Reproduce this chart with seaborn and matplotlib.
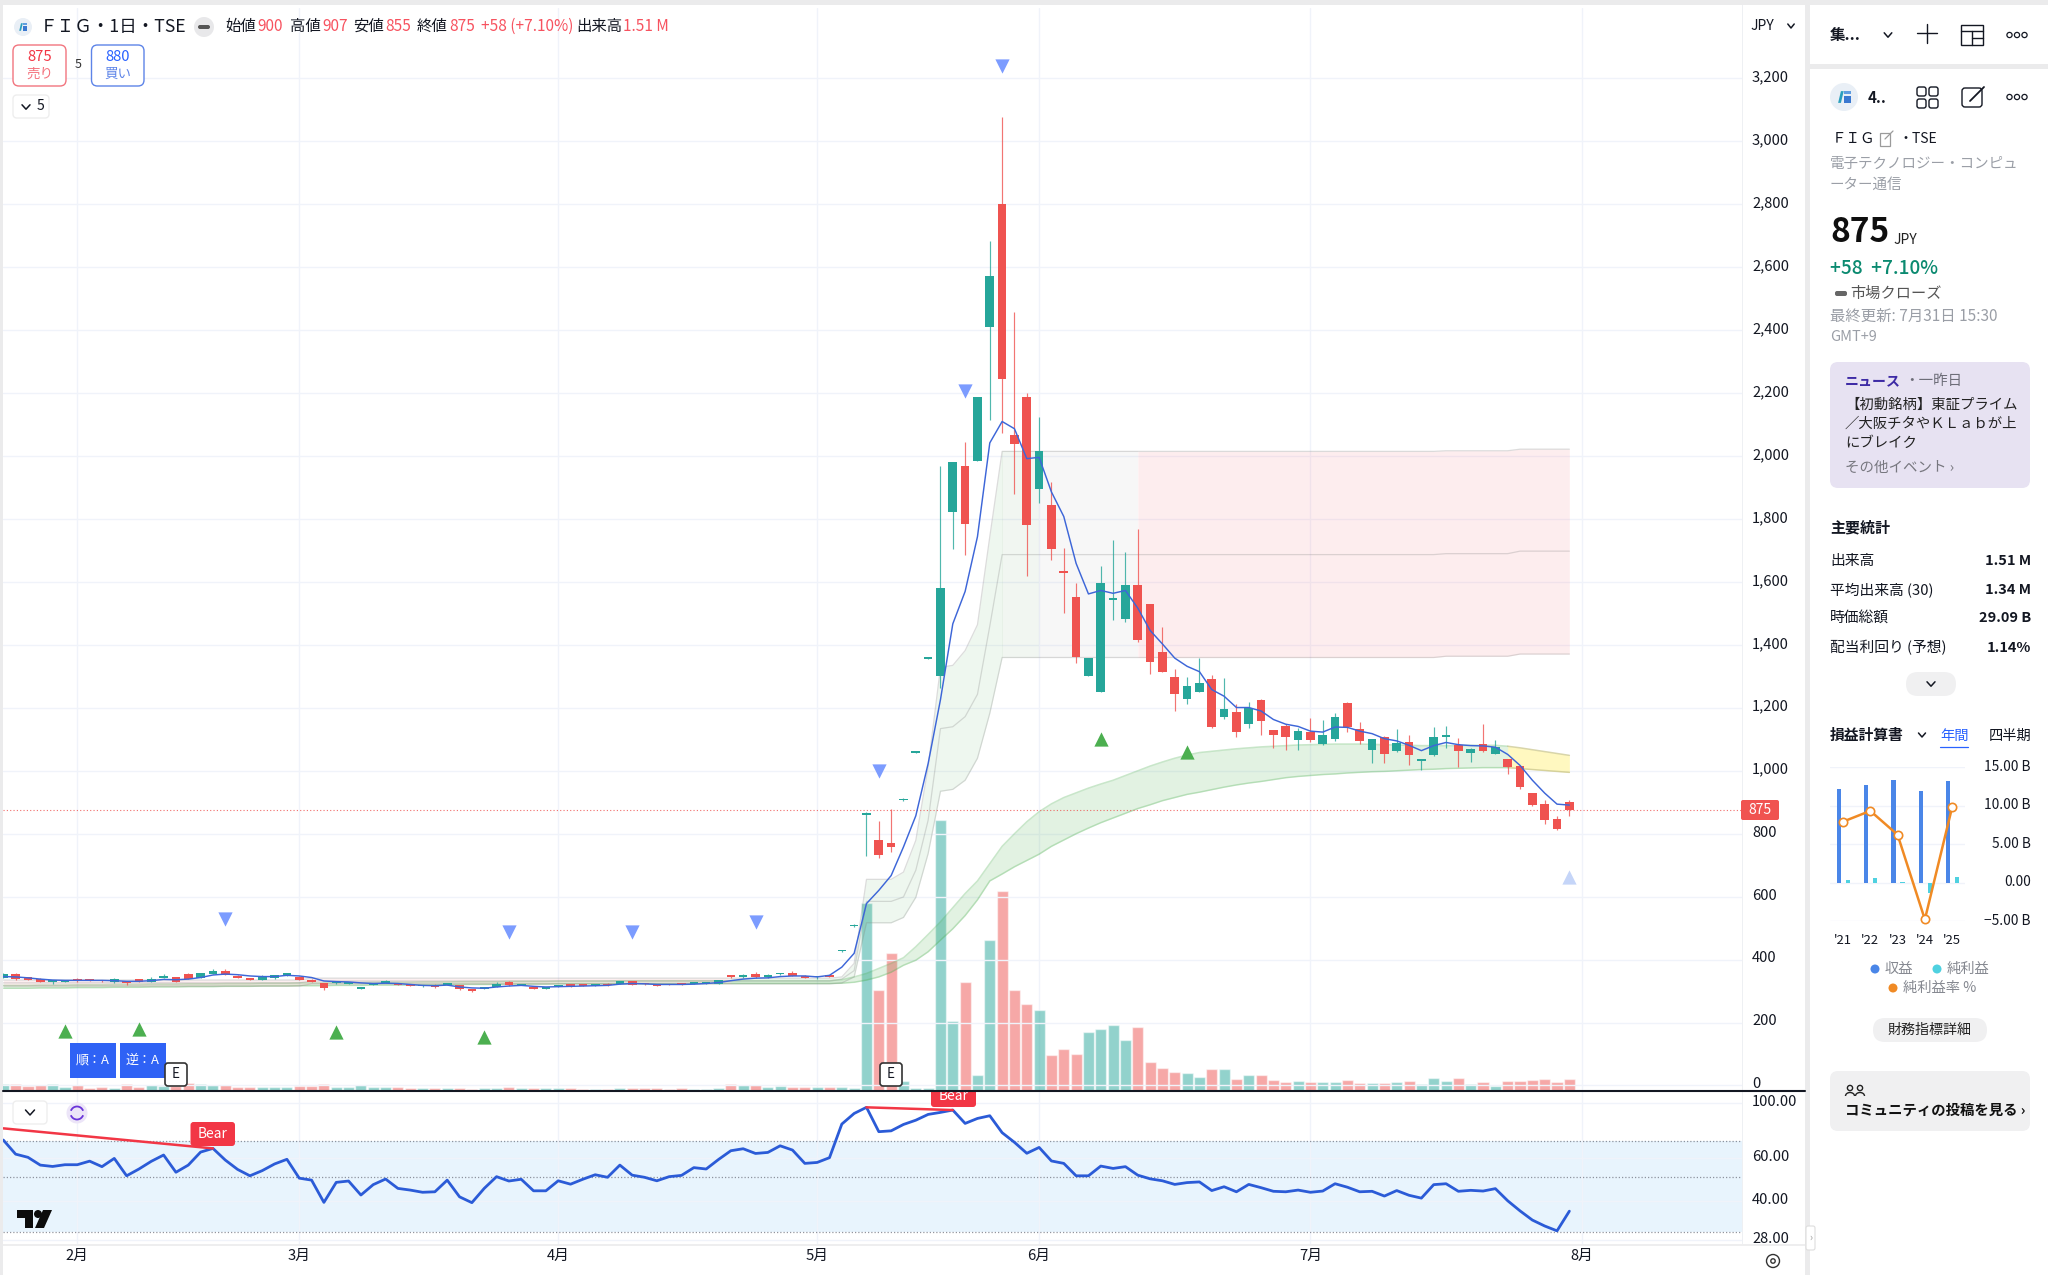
import numpy as np
import pandas as pd
import matplotlib
matplotlib.use("Agg")
import matplotlib.pyplot as plt
from matplotlib.patches import FancyBboxPatch, Rectangle, Circle, Polygon, Arc
from matplotlib.ticker import FuncFormatter, NullLocator
from matplotlib.transforms import ScaledTranslation
import seaborn as sns

opens = [342,355,344,339,329,330,335,334,334,328,
         332,337,330,342,344,355,341,355,365,349,
         342,335,340,348,346,336,326,325,322,306,
         319,326,326,318,315,320,319,318,302,307,
         314,330,319,309,307,315,321,317,316,323,
         322,331,324,321,320,323,323,324,324,347,
         346,353,345,353,357,349,344,347,426,506,
         858,779,770,906,1058,1356,1301,1822,1968,1985,
         2411,2801,2066,2189,1894,1844,1633,1553,1301,1251,
         1544,1481,1590,1531,1377,1299,1228,1251,1291,1170,
         1187,1148,1225,1129,1143,1097,1124,1084,1100,1214,
         1134,1067,1108,1062,1093,1032,1049,1108,1081,1056,
         1085,1054,1037,1016,928,895,848,900]
closes = [355,339,336,330,332,333,334,333,331,339,
          325,330,339,348,330,338,357,363,352,341,
          335,344,350,357,335,330,309,331,329,313,
          325,329,319,317,317,312,325,305,300,311,
          323,318,322,307,311,316,313,316,318,318,
          331,320,321,316,319,321,326,326,335,345,
          349,344,347,355,348,341,346,345,430,510,
          866,732,758,911,1062,1361,1580,1981,1783,2187,
          2571,2245,2038,1781,2015,1704,1629,1363,1359,1598,
          1546,1590,1417,1346,1315,1243,1270,1280,1140,1197,
          1122,1201,1157,1113,1106,1125,1097,1113,1172,1139,
          1094,1100,1054,1089,1049,1034,1108,1114,1062,1070,
          1064,1075,1013,948,890,845,816,875]
highs = [357,356,346,340,332,334,342,335,335,340,
         333,338,346,354,345,356,358,370,371,350,
         343,351,352,358,347,337,327,332,330,314,
         326,335,327,319,318,321,326,319,305,312,
         330,332,323,310,312,318,322,318,319,326,
         332,332,325,322,321,324,327,327,336,350,
         355,361,353,358,365,350,347,348,432,512,
         870,840,878,913,1064,1363,1967,1981,2045,2187,
         2685,3078,2459,2201,2123,1917,1708,1598,1359,1650,
         1734,1694,1769,1531,1457,1322,1297,1360,1304,1294,
         1211,1220,1229,1130,1150,1135,1169,1162,1184,1219,
         1154,1100,1110,1134,1113,1035,1139,1143,1103,1071,
         1150,1099,1038,1017,930,906,855,907]
lows = [340,335,334,329,323,329,328,332,330,327,
        318,329,329,340,329,337,340,353,351,340,
        334,334,339,347,334,329,303,324,321,305,
        318,325,318,316,314,311,318,304,297,306,
        313,317,318,306,306,314,312,315,315,317,
        321,319,320,315,318,320,322,323,323,340,
        340,343,340,350,347,340,338,344,424,504,
        728,722,742,904,1056,1354,1262,1704,1687,1985,
        2116,2073,1881,1619,1850,1670,1500,1341,1301,1251,
        1478,1473,1410,1307,1315,1190,1211,1251,1137,1165,
        1108,1136,1113,1072,1067,1067,1091,1081,1095,1123,
        1086,1026,1026,1060,1017,1003,1047,1071,1012,1028,
        1060,1052,989,942,888,832,813,855]
volume_m = [.8,.93,.62,.71,.8,.49,.67,.36,.49,.36,
            .8,.53,.71,.62,.6,1.0,.93,.71,.71,.49,
            .4,.49,.4,.49,.62,.62,.93,.49,.4,.71,
            .53,.4,.4,.31,.36,.3,.35,.3,.2,.3,
            .35,.45,.35,.3,.3,.3,.3,.2,.2,.2,
            .35,.3,.3,.3,.25,.3,.2,.2,.3,.8,
            .7,.7,.5,.6,.5,.5,.4,.4,.44,.3,
            25.0,13.4,18.3,1.3,.3,.3,36.0,9.2,14.4,2.0,
            20.1,26.6,13.4,11.5,10.7,4.7,5.5,4.8,7.8,8.2,
            8.7,6.7,8.5,3.8,3.0,2.4,2.3,1.8,2.8,2.8,
            1.5,2.0,2.0,1.4,1.1,1.2,1.1,1.1,1.1,1.4,
            1.0,1.0,1.0,1.1,1.2,.8,1.7,1.3,1.6,.9,
            1.1,.6,1.2,1.3,1.4,1.5,1.1,1.51]
ma5 = [346,345,342,338,335,334,334,334,334,333,
       331,331,333,337,336,338,343,351,354,352,
       348,346,346,350,348,343,332,330,329,326,
       324,325,324,321,318,317,319,313,310,309,
       313,316,318,315,313,314,315,316,317,318,
       322,324,323,321,321,321,322,324,327,333,
       338,341,342,346,348,348,345,350,376,420,
       578,620,667,758,857,1023,1226,1467,1570,1744,
       2042,2110,2087,1992,1996,1886,1808,1659,1562,1573,
       1564,1573,1517,1446,1403,1358,1332,1315,1258,1237,
       1201,1201,1190,1163,1148,1141,1126,1123,1139,1138,
       1126,1118,1102,1095,1081,1064,1080,1090,1083,1080,
       1079,1075,1052,1017,970,929,894,891]
band_upper = [335,335,335,335,335,335,335,335,335,335,
              335,335,335,335,335,335,335,335,335,335,
              335,335,335,335,335,341,341,341,341,341,
              341,341,341,341,341,341,341,341,341,341,
              341,341,341,341,341,341,341,341,341,341,
              341,341,341,341,341,341,341,341,341,341,
              341,341,341,341,341,341,341,341,345,388,
              655,655,655,678,779,1012,1329,1335,1382,1464,
              1744,2015,2015,2015,2015,2015,2015,2015,2015,2015,
              2015,2015,2015,2015,2015,2015,2015,2015,2015,2015,
              2015,2015,2015,2015,2015,2015,2015,2015,2015,2015,
              2015,2015,2015,2015,2015,2015,2015,2017,2017,2017,
              2017,2017,2017,2022,2022,2022,2022,2022]
band_mid = [326,326,326,326,326,326,326,326,326,326,
            326,326,326,326,326,326,326,326,326,326,
            326,326,326,326,326,332,332,332,332,332,
            332,332,332,332,332,332,332,332,332,332,
            332,332,332,332,332,332,332,332,332,332,
            332,332,332,332,332,332,332,332,332,332,
            332,332,332,332,332,332,332,332,338,365,
            585,585,585,599,684,843,1134,1140,1172,1243,
            1460,1687,1687,1687,1687,1687,1687,1687,1687,1687,
            1687,1687,1687,1687,1687,1687,1687,1687,1687,1687,
            1687,1687,1687,1687,1687,1687,1687,1687,1687,1687,
            1687,1687,1687,1687,1687,1687,1687,1690,1690,1690,
            1690,1690,1690,1698,1698,1698,1698,1698]
band_lower = [316,316,316,316,316,316,316,316,316,316,
              316,316,316,316,316,316,316,316,316,316,
              316,316,316,316,316,323,323,323,323,323,
              323,323,323,323,323,323,323,323,323,323,
              323,323,323,323,323,323,323,323,323,323,
              323,323,323,323,323,323,323,323,323,323,
              323,323,323,323,323,323,323,323,326,345,
              517,517,517,534,598,737,935,941,970,1040,
              1183,1360,1360,1360,1360,1360,1360,1360,1360,1360,
              1360,1360,1360,1360,1360,1360,1360,1360,1360,1360,
              1360,1360,1360,1360,1360,1360,1360,1360,1360,1360,
              1360,1360,1360,1360,1360,1360,1360,1364,1364,1364,
              1364,1364,1364,1371,1371,1371,1371,1371]
cloud_top = [318,318,318,319,319,319,320,320,320,321,
             321,321,322,322,322,323,323,323,324,324,
             324,325,325,325,326,326,326,327,327,327,
             328,328,328,328,329,329,329,330,330,330,
             330,331,331,331,331,332,332,332,332,332,
             333,333,333,333,333,333,333,333,333,333,
             333,333,333,333,333,333,333,333,336,345,
             356,372,388,406,441,480,520,565,610,650,
             705,760,800,838,870,895,915,930,945,958,
             970,985,1000,1015,1028,1040,1050,1058,1062,1066,
             1070,1073,1076,1078,1080,1082,1083,1084,1085,1085,
             1085,1084,1083,1082,1081,1080,1080,1080,1080,1081,
             1081,1081,1078,1073,1067,1061,1055,1049]
cloud_bot = [309,309,309,310,310,310,311,311,311,312,
             312,312,313,313,313,314,314,314,315,315,
             315,316,316,316,317,317,317,318,318,318,
             319,319,319,319,320,320,320,321,321,321,
             321,322,322,322,322,323,323,323,323,323,
             323,323,323,323,323,323,324,324,324,324,
             324,324,324,324,324,324,324,324,325,328,
             335,345,360,382,398,425,462,498,540,590,
             650,672,695,715,735,760,780,800,818,835,
             850,865,880,892,905,915,925,932,940,948,
             955,961,966,972,978,982,985,988,990,993,
             995,997,998,1000,1002,1004,1005,1007,1008,1009,
             1010,1010,1010,1007,1004,1001,998,995]
rsi = [70.7,62,60.2,56,55.3,56.2,56.2,58.1,55.2,59.6,
       50.7,54,58,61.5,52.4,56,63.2,65.4,58.7,53.8,
       50.7,53.2,56.6,59.1,49.6,48.7,39.6,47.7,48.3,42.4,
       46.7,49.2,45.1,44.4,43.5,43.7,48.7,41.7,39.5,45.1,
       50.3,48.3,49.1,44.1,44.1,48.4,46.9,49.1,51.2,50,
       56,51,50,48.4,50.3,50.9,54.7,54,59,64,
       65.2,62.4,63,67,64.4,56.9,57.4,60,82,90.5,
       95.8,76.4,77,81.7,85,89.7,91.4,93.4,82.5,86.4,
       88.6,75.7,69.2,62.5,66,58.2,56.9,50.7,50.7,55.5,
       54.3,55.2,51,49.3,48.4,46.8,47.6,47.9,44.2,45.8,
       43.7,46.8,45.4,43.9,43.7,44.4,43.5,44,47.1,45.6,
       43.7,43.9,42,44.2,42.3,41.2,46.7,47.1,43.9,44.3,
       44,45,40.2,36.6,33.6,31.8,30.4,36.5]
sell_idx = [18, 41, 51, 61, 71, 78, 81]
sell_price = [528, 487, 487, 519, 998, 2207, 3240]
buy_idx = [5, 11, 27, 39, 89, 96]
buy_price = [173, 178, 169, 155, 1100, 1059]
month_idx = [6, 24, 45, 66, 84, 106, 128]
month_labels = ["2月", "3月", "4月", "5月", "6月", "7月", "8月"]
price_ticks = list(range(0, 3400, 200))
rsi_ticks = [100, 60, 40, 28]
fy_labels = ["'21", "'22", "'23", "'24", "'25"]
fy_revenue = [12.1, 12.7, 13.3, 11.9, 13.2]
fy_net = [0.3, 0.55, 0.05, -1.3, 0.65]
fy_margin = [7.9, 9.3, 6.2, -4.8, 9.8]
fy_ticks = [15, 10, 5, 0, -5]
fy_tick_labels = ["15.00 B", "10.00 B", "5.00 B", "0.00", "−5.00 B"]

sns.set_style("white")
plt.rcParams["font.family"] = ["Noto Sans CJK JP", "DejaVu Sans"]
plt.rcParams["axes.unicode_minus"] = False

RED, TEAL = "#ef5350", "#26a69a"
GRID = "#f0f3fa"
W, H = 2048, 1275
fig = plt.figure(figsize=(W / 100, H / 100), dpi=100, facecolor="white")
lift = ScaledTranslation(0, 2.6 / 100, fig.dpi_scale_trans)

def axpx(l, t, r, b, **k):
    return fig.add_axes([l / W, 1 - b / H, (r - l) / W, (b - t) / H], **k)

idx = np.arange(len(opens))
o, c, h, l = map(np.array, (opens, closes, highs, lows))
updown = np.where(c >= o, "up", "down")
xlim = (-0.024, 141.0)

# ---- volume underlay
vol_ax = axpx(3, 8, 1742, 1090.5, zorder=1)
sns.barplot(x=idx, y=volume_m, hue=updown, palette={"up": TEAL, "down": RED},
            native_scale=True, dodge=False, legend=False, width=0.9, alpha=0.5,
            saturation=1, errorbar=None, ax=vol_ax)
vol_ax.set_xlim(xlim); vol_ax.set_ylim(0, 144.2)
vol_ax.set_xticks(month_idx)
vol_ax.set_xticklabels([])
vol_ax.set_yticks([])
vol_ax.set_ylabel("")
vol_ax.grid(axis="x", color=GRID, lw=1)
vol_ax.tick_params(length=0)
vol_ax.set_axisbelow(True)
sns.despine(ax=vol_ax, left=True, bottom=True)

# ---- price
ax = axpx(3, 8, 1742, 1090.5, zorder=2)
ax.patch.set_alpha(0)
ax.set_xlim(xlim); ax.set_ylim(-16, 3424)
ax.set_yticks(price_ticks)
ax.yaxis.tick_right()
ax.yaxis.set_major_formatter(FuncFormatter(lambda v, p: f"{int(v):,}"))
ax.tick_params(axis="y", length=0, pad=7.2, labelsize=10.6, labelcolor="#131722")
ax.set_xticks([])
ax.grid(axis="y", color=GRID, lw=1)
ax.set_axisbelow(True)
for s in ax.spines.values():
    s.set_visible(False)

x = idx
ct, cb = np.array(cloud_top), np.array(cloud_bot)
ax.fill_between(x[:123], cb[:123], ct[:123], color="#4caf50", alpha=0.16, lw=0, zorder=1)
ax.fill_between(x[122:], cb[122:], ct[122:], color="#ffeb3b", alpha=0.32, lw=0, zorder=1)
ax.plot(x[:123], ct[:123], color="#4caf50", alpha=0.3, lw=1.1, zorder=1.1)
ax.plot(x[:123], cb[:123], color="#4caf50", alpha=0.3, lw=1.1, zorder=1.1)
ax.plot(x[122:], ct[122:], color="#c8c48a", alpha=0.7, lw=1.1, zorder=1.1)
ax.plot(x[122:], cb[122:], color="#c8c48a", alpha=0.7, lw=1.1, zorder=1.1)

bu, bm, bl = map(np.array, (band_upper, band_mid, band_lower))
ax.fill_between(x[:60], bl[:60], bu[:60], color="#f23645", alpha=0.08, lw=0, zorder=1.2)
ax.fill_between(x[59:82], bl[59:82], bu[59:82], color="#4caf50", alpha=0.09, lw=0, zorder=1.2)
ax.fill_between(x[81:85], bl[81:85], bu[81:85], color="#9e9e9e", alpha=0.05, lw=0, zorder=1.2)
ax.fill_between(x[81:85], bl[81:85], bu[81:85], color="#4caf50", alpha=0.05, lw=0, zorder=1.2)
ax.fill_between(x[84:93], bl[84:93], bu[84:93], color="#9e9e9e", alpha=0.075, lw=0, zorder=1.2)
ax.fill_between(x[92:], bl[92:], bu[92:], color="#f23645", alpha=0.085, lw=0, zorder=1.2)
for arr in (bu, bm, bl):
    ax.plot(x, arr, color="#8d8d8d", alpha=0.3, lw=0.9, zorder=1.3)

ax.axhline(875, color=RED, lw=0.8, ls=(0, (1, 2)), alpha=0.85, zorder=1.4)

ax.vlines(x, l, h, colors=[TEAL if u == "up" else RED for u in updown], lw=0.85, alpha=0.8, zorder=3)
body_h = np.maximum(np.abs(c - o), 5)
ax.bar(x, body_h, bottom=np.minimum(o, c), width=0.7,
       color=[TEAL if u == "up" else RED for u in updown], lw=0, zorder=3.1)
sns.lineplot(x=x, y=ma5, color="#3d66d8", lw=1.05, ax=ax, zorder=3.5, errorbar=None)
sns.scatterplot(x=sell_idx, y=sell_price, marker="v", s=105, color="#7c9cff", lw=0, ax=ax, zorder=4)
sns.scatterplot(x=buy_idx, y=buy_price, marker="^", s=105, color="#4caf50", lw=0, ax=ax, zorder=4)
sns.scatterplot(x=[127], y=[664], marker="^", s=105, color="#c5d5f8", lw=0, ax=ax, zorder=4)
ax.set_xlim(xlim); ax.set_ylim(-16, 3424)
ax.set_xlabel(""); ax.set_ylabel("")
for lab in ax.get_yticklabels():
    lab.set_transform(lab.get_transform() + lift)

# ---- RSI pane
rx = axpx(3, 1091, 1742, 1244, zorder=2)
rx.set_yscale("log")
rx.axhspan(30, 70, color="#2196f3", alpha=0.1, lw=0, zorder=0.5)
sns.lineplot(x=x, y=rsi, color="#2b5bd7", lw=2.0, ax=rx, zorder=3, errorbar=None)
rx.plot([0, 17], [78.8, 65.4], color="#f23645", lw=1.8, zorder=3.2)
rx.plot([70, 77], [95.8, 93.4], color="#f23645", lw=1.8, zorder=3.2)
for lv in (70, 50, 30):
    rx.axhline(lv, color="#787b86", lw=0.9, ls=(0, (1, 1.6)), alpha=0.8, zorder=1)
rx.set_xlim(xlim); rx.set_ylim(26.9, 111.5)
rx.yaxis.set_minor_locator(NullLocator())
rx.yaxis.tick_right()
rx.set_yticks(rsi_ticks)
rx.yaxis.set_minor_locator(NullLocator())
rx.yaxis.set_major_formatter(FuncFormatter(lambda v, p: f"{v:.2f}"))
rx.set_xticks(month_idx)
rx.set_xticklabels(month_labels)
rx.tick_params(axis="both", length=0, labelsize=10.6, labelcolor="#131722")
rx.tick_params(axis="y", pad=7.2)
rx.tick_params(axis="x", pad=3.5)
rx.grid(True, axis="both", color=GRID, lw=1)
rx.set_axisbelow(True)
rx.set_xlabel(""); rx.set_ylabel("")
for s in rx.spines.values():
    s.set_visible(False)
rx.patch.set_alpha(0)
for lab in rx.get_yticklabels():
    lab.set_transform(lab.get_transform() + lift)

# ---- mini income statement
mx = axpx(1830, 767, 1965, 921, zorder=2)
xp = np.arange(5)
mx.bar(xp - 0.15, fy_revenue, width=0.15, color="#4a86e8", lw=0)
mx.bar(xp + 0.18, fy_net, width=0.15, color="#4fd1e0", lw=0)
sns.lineplot(x=xp, y=fy_margin, color="#f08a24", lw=1.8, marker="o", markersize=6,
             markerfacecolor="white", markeredgecolor="#f08a24", markeredgewidth=1.2, ax=mx,
             errorbar=None, zorder=3, clip_on=False)
mx.set_xlim(-0.476, 4.47); mx.set_ylim(-5, 15)
mx.set_yticks(fy_ticks); mx.set_yticklabels([])
mx.set_xticks([])
mx.tick_params(length=0)
mx.grid(axis="y", color="#f0f3fa", lw=1)
mx.set_axisbelow(True)
for s in mx.spines.values():
    s.set_visible(False)
mx.patch.set_alpha(0)

# ---- overlay
ui = fig.add_axes([0, 0, 1, 1], zorder=5)
ui.set_xlim(0, W); ui.set_ylim(H, 0)
ui.axis("off")
ui.patch.set_alpha(0)

def T(xv, yv, s, px=14, color="#131722", ha="left", weight="normal", **k):
    return ui.text(xv, yv, s, fontsize=px * 0.72, color=color, ha=ha, va="center", fontweight=weight, **k)

def R(l_, t_, r_, b_, fc="none", ec="none", lw=1, rad=0, z=1):
    if rad:
        p = FancyBboxPatch((l_, t_), r_ - l_, b_ - t_, boxstyle=f"round,pad=0,rounding_size={rad}",
                           fc=fc, ec=ec, lw=lw, zorder=z)
    else:
        p = Rectangle((l_, t_), r_ - l_, b_ - t_, fc=fc, ec=ec, lw=lw, zorder=z)
    ui.add_patch(p)

def chev(xc, yc, w=4, hh=2.5, color="#131722", lw=1.1):
    ui.plot([xc - w, xc, xc + w], [yc - hh, yc + hh, yc - hh], color=color, lw=lw, zorder=6)

def dots(xc, yc):
    for dx in (-7.5, 0, 7.5):
        ui.add_patch(Circle((xc + dx, yc), 2.6, fc="white", ec="#131722", lw=0.9, zorder=6))

def logo(xc, yc, r):
    ui.add_patch(Circle((xc, yc), r, fc="#e9eff6", ec="none", zorder=5))
    ui.add_patch(Polygon([(xc - r * .42, yc + r * .42), (xc - r * .22, yc - r * .42), (xc - r * .02, yc - r * .42), (xc - r * .22, yc + r * .42)], fc="#2a9fbd", ec="none", zorder=6))
    R(xc - r * .02, yc - r * .42, xc + r * .48, yc - r * .2, fc="#5f9de0", z=6)
    R(xc - r * .02, yc - r * .08, xc + r * .48, yc + r * .42, fc="#3a78d0", z=6)

# frame strips
strip = "#ebebec"
R(0, 0, W, 4.5, fc=strip); R(0, 0, 2.5, H, fc=strip)
R(1805, 0, 1810, H, fc=strip); R(1810, 64, W, 68.5, fc=strip)
R(3, 1244, 1805, 1246, fc="#eeeeef")
R(1741.5, 4.5, 1742.5, 1244, fc="#eef0f3")

# legend head
logo(23, 27, 9)
T(40, 27, "ＦＩＧ・1日・TSE", 17.6)
ui.add_patch(Circle((204, 27), 10, fc="#e8e8ea", ec="none", zorder=4))
R(198, 25, 210, 29, fc="#555555", rad=2, z=5)
LR = "#f7525f"
for xv, s, col in [(225, "始値", "#131722"), (257, "900", LR), (290, "高値", "#131722"), (322, "907", LR),
                   (353, "安値", "#131722"), (385, "855", LR), (417, "終値", "#131722"), (449, "875", LR),
                   (481, "+58 (+7.10%)", LR), (576, "出来高", "#131722"), (623, "1.51 M", LR)]:
    T(xv, 26.5, s, 15.4, col)
R(13, 45, 66, 86, fc="white", ec="#f2757f", lw=1, rad=6, z=4)
T(39.5, 57, "875", 14.8, "#f23645", ha="center", zorder=6)
T(39.5, 74, "売り", 13.5, "#f4717c", ha="center", zorder=6)
T(78, 65, "5", 12.5, "#333333", ha="center")
R(91.5, 45, 144, 86, fc="white", ec="#5d84e8", lw=1, rad=6, z=4)
T(117.5, 57, "880", 14.8, "#2962ff", ha="center", zorder=6)
T(117.5, 74, "買い", 13.5, "#5d84e8", ha="center", zorder=6)
R(13, 95, 49, 118, fc="white", ec="#eeeeee", lw=1, rad=4, z=4)
chev(26, 107, 4, 2.2)
T(40, 106.5, "5", 14, ha="center", zorder=6)

# badges
for l_, s in [(70, "順：A"), (120, "逆：A")]:
    R(l_, 1043, l_ + 46, 1078, fc="#2f62f5", z=4)
    T(l_ + 23, 1060, s, 13, "white", ha="center", zorder=6)
for l_ in (165, 880):
    R(l_, 1063, l_ + 22, 1086, fc="white", ec="#333333", lw=1.2, rad=3, z=6)
    T(l_ + 11, 1074, "E", 13.5, ha="center", zorder=7)
R(190.5, 1122, 235, 1146, fc="#f23645", rad=3, z=4)
T(212.7, 1133.5, "Bear", 13.8, "white", ha="center", zorder=6)
rx.add_patch(FancyBboxPatch((931, 1085), 45, 22, boxstyle="round,pad=0,rounding_size=3", fc="#f23645", ec="none",
                            transform=ui.transData, clip_on=True, zorder=6))
rx.text(953.5, 1096, "Bear", fontsize=9.9, color="white", ha="center", va="center", transform=ui.transData,
        clip_on=True, zorder=7)
ui.plot([3, 1805], [1091, 1091], color="#131722", lw=1.5, zorder=8)

# rsi tools + TV logo
R(13, 1101, 47, 1124, fc="white", ec="#eeeeee", lw=1, rad=4, z=4)
chev(30, 1112.5, 4.5, 2.5)
ui.add_patch(Circle((77, 1113), 10.5, fc="#ece5f8", ec="none", zorder=4))
ui.add_patch(Arc((77, 1113), 13, 13, theta1=200, theta2=340, ec="#6a35d9", lw=1.3, zorder=5))
ui.add_patch(Arc((77, 1113), 13, 13, theta1=20, theta2=160, ec="#6a35d9", lw=1.3, zorder=5))
ui.add_patch(Polygon([(17, 1210), (33, 1210), (33, 1228), (25, 1228), (25, 1218), (17, 1218)], fc="#0c0c0c", ec="none", zorder=5))
ui.add_patch(Circle((38, 1214), 4, fc="#0c0c0c", ec="none", zorder=5))
ui.add_patch(Polygon([(43, 1210), (52, 1210), (44, 1228), (35, 1228)], fc="#0c0c0c", ec="none", zorder=5))

# price scale bits
T(1762, 26, "JPY", 14, ha="center")
chev(1791, 26, 3.2, 2)
R(1741, 800, 1779, 820, fc="#f05350", rad=2, z=5)
T(1760, 809.5, "875", 14, "white", ha="center", zorder=6)
ui.add_patch(Circle((1773, 1261), 6.5, fc="white", ec="#333333", lw=1.0, zorder=5))
ui.add_patch(Circle((1773, 1261), 2.2, fc="white", ec="#333333", lw=1.0, zorder=6))
R(1806, 1226, 1815, 1250, fc="white", ec="#dddddd", lw=0.8, rad=2, z=5)
T(1810.5, 1238, "›", 10, "#999999", ha="center", zorder=6)

# right panel header
T(1830, 35, "集...", 15.5, weight="bold")
chev(1888, 35, 3.8, 2.2)
ui.plot([1917, 1937], [33, 33], color="#131722", lw=1); ui.plot([1927, 1927], [24, 43], color="#131722", lw=1)
R(1961, 25, 1983, 45, ec="#131722", lw=1)
ui.plot([1961, 1983], [31, 31], color="#131722", lw=1); ui.plot([1972, 1972], [31, 45], color="#131722", lw=1)
ui.plot([1972, 1983], [38, 38], color="#131722", lw=1)
dots(2017, 35)
logo(1844, 97, 14)
T(1868, 98, "4..", 15, weight="bold")
for dx, dy in ((-10, -10), (2, -10), (-10, 2), (2, 2)):
    R(1927 + dx, 97 + dy, 1927 + dx + 9, 97 + dy + 9, ec="#131722", lw=1, rad=2.2)
R(1962, 88, 1982, 107, ec="#131722", lw=1, rad=3)
ui.plot([1970, 1984], [101, 87], color="#131722", lw=1.3, zorder=6)
dots(2017, 97)

T(1832, 139, "ＦＩＧ", 14.5)
R(1880, 133, 1890, 146, ec="#9b9b9b", lw=0.9)
ui.plot([1885, 1893], [139, 131], color="#9b9b9b", lw=0.9)
T(1899, 139, "・TSE", 14)
G = "#9a9ea6"
T(1830, 164, "電子テクノロジー・コンピュ", 14.5, G)
T(1830, 185, "ーター通信", 14.5, G)
T(1830, 233, "875", 33.5, "#0f0f0f", weight="bold")
T(1893, 240, "JPY", 14, "#222222")
T(1830, 269, "+58  +7.10%", 19, "#0b8a70", weight="medium")
R(1835, 291, 1847, 296, fc="#666666", rad=2)
T(1850, 293, "市場クローズ", 15.2, "#555555")
T(1830, 316, "最終更新: 7月31日 15:30", 15.4, G)
T(1830, 337, "GMT+9", 14.5, G)
R(1830, 362, 2030, 488, fc="#e7e2f2", rad=8)
T(1845, 381, "ニュース", 14, "#3d2aa5", weight="bold", zorder=6)
T(1904, 381, "・一昨日", 14.5, "#6d6d78", zorder=6)
T(1845, 405, "【初動銘柄】東証プライム", 14.4, "#222222", zorder=6)
T(1845, 424, "／大阪チタやＫＬａｂが上", 14.4, "#222222", zorder=6)
T(1845, 443, "にブレイク", 14.4, "#222222", zorder=6)
T(1845, 468, "その他イベント ›", 14.5, "#77777f", zorder=6)

T(1830, 527, "主要統計", 15, weight="bold")
for yv, a, b in [(561, "出来高", "1.51 M"), (590, "平均出来高 (30)", "1.34 M"),
                 (618, "時価総額", "29.09 B"), (648, "配当利回り (予想)", "1.14%")]:
    T(1830, yv, a, 14.8)
    T(2031, yv, b, 14.5, ha="right", weight="bold")
R(1906, 672, 1956, 696, fc="#f0f0f1", rad=12)
chev(1931, 684, 4, 2.2)

T(1830, 735, "損益計算書", 14.8, weight="bold")
chev(1922, 735, 3.5, 2)
T(1940, 736, "年間", 14.3, "#2962ff")
ui.plot([1940, 1968], [747, 747], color="#2962ff", lw=0.9)
T(2031, 736, "四半期", 14.3, ha="right")
for yv, s in zip([767, 805, 844, 882.5, 921], fy_tick_labels):
    T(2031, yv, s, 13.8, ha="right")
for xv, s in zip([1843, 1870, 1898, 1925, 1952], fy_labels):
    T(xv, 940, s, 13, ha="center")
for xv, yv, col, s in [(1875, 969, "#4a86e8", "収益"), (1937, 969, "#4fd1e0", "純利益"), (1893, 988, "#f08a24", "純利益率 %")]:
    ui.add_patch(Circle((xv, yv), 4.5, fc=col, ec="none", zorder=5))
    T(xv + 10, yv, s, 14.3, "#858890")
R(1873, 1018, 1987, 1042, fc="#f0f0f1", rad=12)
T(1930, 1030, "財務指標詳細", 14, "#222222", ha="center", zorder=6)
R(1830, 1071, 2030, 1131, fc="#f0f0f1", rad=8)
for dx in (-5, 5):
    ui.add_patch(Circle((1855 + dx, 1088), 2.6, fc="none", ec="#222222", lw=1, zorder=6))
    ui.add_patch(Arc((1855 + dx, 1096), 9, 7, theta1=180, theta2=360, ec="#222222", lw=1, zorder=6))
T(1845, 1111, "コミュニティの投稿を見る ›", 14.4, "#111111", weight="bold", zorder=6)

fig.savefig("out.png", dpi=100)
